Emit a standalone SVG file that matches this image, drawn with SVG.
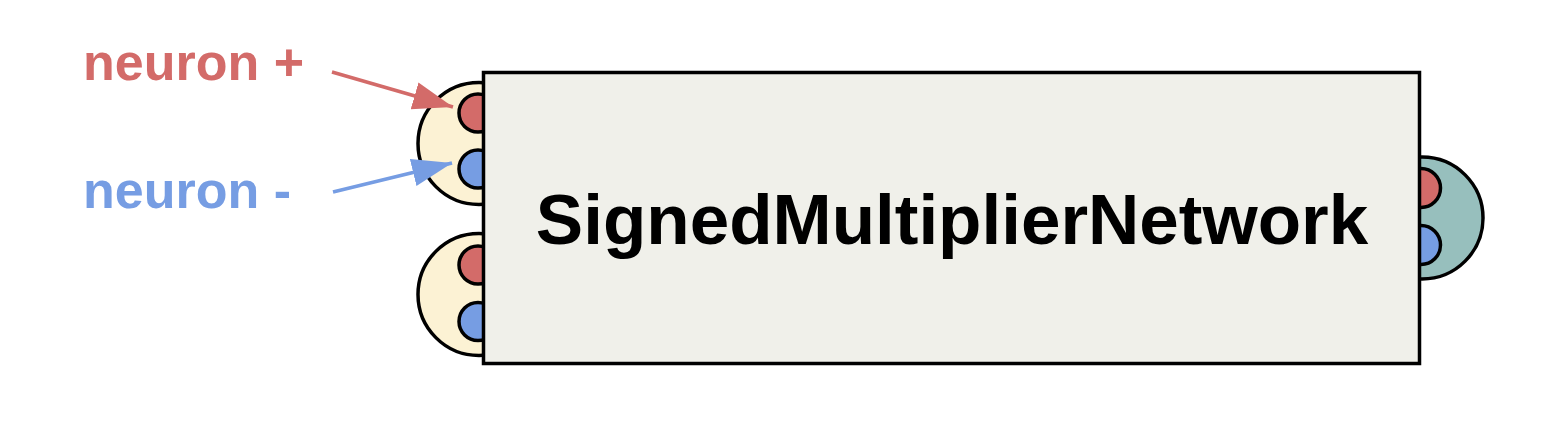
<svg xmlns="http://www.w3.org/2000/svg" width="1568" height="434" viewBox="0 0 1568 434">
<style>
.ol{stroke:#000;stroke-width:3.5}
.in{fill:#fcf2d4}
.out{fill:#97bfbd}
.pr{fill:#d36b69}
.pb{fill:#769de3}
.lbl{font-family:"Liberation Sans",Arial,sans-serif;font-weight:bold}
</style>
<defs>
<marker id="ahr" markerUnits="userSpaceOnUse" markerWidth="44" markerHeight="32" refX="40" refY="14" orient="auto">
<path d="M0,0 L40,14 L0,28 Z" fill="#d36b69"/>
</marker>
<marker id="ahb" markerUnits="userSpaceOnUse" markerWidth="44" markerHeight="32" refX="40" refY="14" orient="auto">
<path d="M0,0 L40,14 L0,28 Z" fill="#769de3"/>
</marker>
</defs>
<g id="in1">
<circle class="in ol" cx="479" cy="143.5" r="61"/>
<circle class="pr ol" cx="478" cy="113" r="19"/>
<circle class="pb ol" cx="478" cy="169" r="19"/>
</g>
<g id="in2">
<circle class="in ol" cx="479" cy="294.5" r="61"/>
<circle class="pr ol" cx="478" cy="265" r="19"/>
<circle class="pb ol" cx="478" cy="321.5" r="19"/>
</g>
<g id="out">
<circle class="out ol" cx="1422" cy="218" r="61"/>
<circle class="pr ol" cx="1421" cy="188" r="19.5"/>
<circle class="pb ol" cx="1421" cy="245" r="19.5"/>
</g>
<g id="main">
<rect x="483.5" y="72.5" width="936" height="291" fill="#f0f0ea" class="ol"/>
<text class="lbl" x="952" y="244" font-size="71" text-anchor="middle" fill="#000">SignedMultiplierNetwork</text>
</g>
<g id="labels">
<text class="lbl" x="83" y="80" font-size="52" fill="#d36b69">neuron +</text>
<text class="lbl" x="83" y="208" font-size="52" fill="#769de3">neuron -</text>
</g>
<g id="connectors">
<line x1="332" y1="72" x2="453" y2="107" stroke="#d36b69" stroke-width="3.5" marker-end="url(#ahr)"/>
<line x1="333" y1="192" x2="452" y2="163" stroke="#769de3" stroke-width="3.5" marker-end="url(#ahb)"/>
</g>
</svg>
